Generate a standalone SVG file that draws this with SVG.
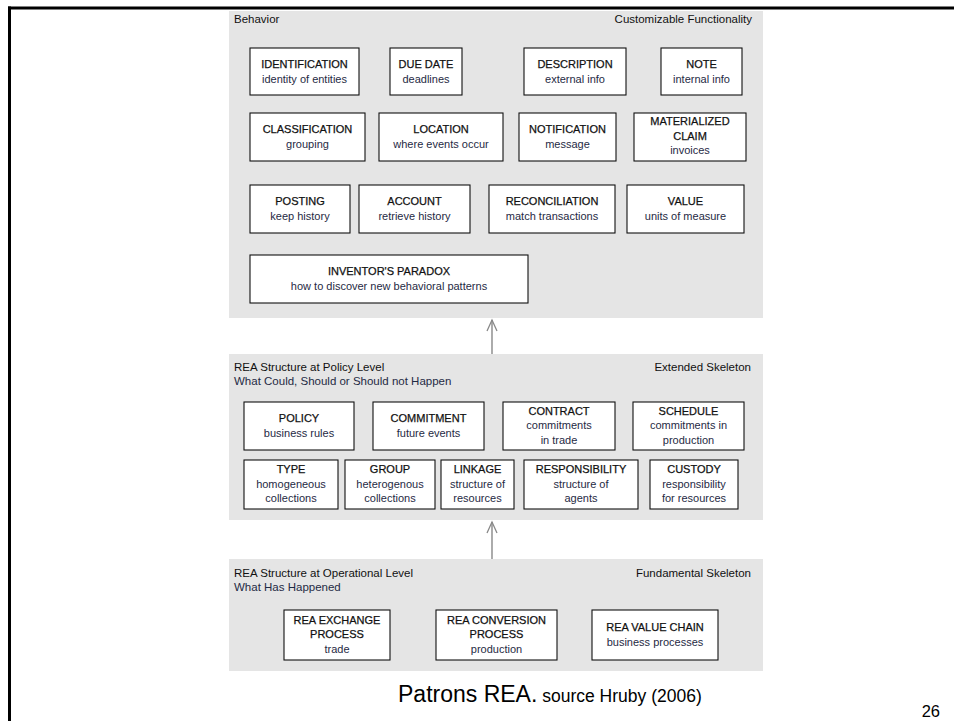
<svg xmlns="http://www.w3.org/2000/svg" width="954" height="721" viewBox="0 0 954 721">
<defs>
<style>
text{font-family:"Liberation Sans",Arial,Helvetica,sans-serif;font-size:11px}
.t{fill:#111;text-anchor:middle;stroke:#111;stroke-width:0.25}
.s{fill:#1f2a44;text-anchor:middle}
.h{fill:#111;font-size:11.5px}
.hs{fill:#1f2a44;font-size:11.5px}
.he{fill:#111;font-size:11.5px;text-anchor:end}
.cap1{font-size:23px;fill:#000}
.cap2{font-size:17.5px;fill:#000}
.pg{font-size:16.5px;fill:#000;text-anchor:end}
.panel{fill:#e5e5e5}
.box{fill:#fff;stroke:#111;stroke-width:1.1}
.conn{stroke:#888;stroke-width:1.4;fill:none}
</style>
<marker id="ah" markerWidth="14" markerHeight="14" refX="12" refY="7" orient="auto" markerUnits="userSpaceOnUse" viewBox="0 0 14 14">
<polyline points="1,2 12,7 1,12" fill="none" stroke="#888" stroke-width="1.3"/>
</marker>
</defs>
<rect width="954" height="721" fill="#fff"/>
<g id="frame">
<line x1="8" y1="8" x2="954" y2="8" stroke="#000" stroke-width="3"/>
<line x1="9.5" y1="6.5" x2="9.5" y2="721" stroke="#000" stroke-width="3"/>
</g>
<g id="panel-behavior">
<rect class="panel" x="229" y="11" width="534" height="307"/>
<text class="h" x="234" y="23">Behavior</text>
<text class="he" x="752" y="23">Customizable Functionality</text>
</g>
<g id="panel-policy">
<rect class="panel" x="229" y="354" width="534" height="166"/>
<text class="h" x="234" y="371">REA Structure at Policy Level</text>
<text class="hs" x="234" y="385">What Could, Should or Should not Happen</text>
<text class="he" x="751" y="371">Extended Skeleton</text>
</g>
<g id="panel-operational">
<rect class="panel" x="229" y="559" width="534" height="112"/>
<text class="h" x="234" y="577">REA Structure at Operational Level</text>
<text class="hs" x="234" y="591">What Has Happened</text>
<text class="he" x="751" y="577">Fundamental Skeleton</text>
</g>
<g id="connectors">
<line class="conn" x1="492" y1="354" x2="492" y2="320" marker-end="url(#ah)"/>
<line class="conn" x1="492" y1="559" x2="492" y2="522" marker-end="url(#ah)"/>
</g>
<g id="identification"><rect class="box" x="250" y="48" width="109" height="47"/><text class="t" x="304.5" y="67.5">IDENTIFICATION</text><text class="s" x="304.5" y="82.5">identity of entities</text></g>
<g id="due-date"><rect class="box" x="390" y="48" width="72" height="47"/><text class="t" x="426" y="67.5">DUE DATE</text><text class="s" x="426" y="82.5">deadlines</text></g>
<g id="description"><rect class="box" x="524" y="48" width="102" height="47"/><text class="t" x="575" y="67.5">DESCRIPTION</text><text class="s" x="575" y="82.5">external info</text></g>
<g id="note"><rect class="box" x="661" y="48" width="81" height="47"/><text class="t" x="701.5" y="67.5">NOTE</text><text class="s" x="701.5" y="82.5">internal info</text></g>
<g id="classification"><rect class="box" x="250" y="113" width="115" height="48"/><text class="t" x="307.5" y="133">CLASSIFICATION</text><text class="s" x="307.5" y="148">grouping</text></g>
<g id="location"><rect class="box" x="379" y="113" width="124" height="48"/><text class="t" x="441" y="133">LOCATION</text><text class="s" x="441" y="148">where events occur</text></g>
<g id="notification"><rect class="box" x="519" y="113" width="97" height="48"/><text class="t" x="567.5" y="133">NOTIFICATION</text><text class="s" x="567.5" y="148">message</text></g>
<g id="materialized-claim"><rect class="box" x="634" y="113" width="112" height="48"/><text class="t" x="690" y="125">MATERIALIZED</text><text class="t" x="690" y="139.5">CLAIM</text><text class="s" x="690" y="154">invoices</text></g>
<g id="posting"><rect class="box" x="250" y="185" width="100" height="48"/><text class="t" x="300" y="205">POSTING</text><text class="s" x="300" y="220">keep history</text></g>
<g id="account"><rect class="box" x="359" y="185" width="111" height="48"/><text class="t" x="414.5" y="205">ACCOUNT</text><text class="s" x="414.5" y="220">retrieve history</text></g>
<g id="reconciliation"><rect class="box" x="489" y="185" width="126" height="48"/><text class="t" x="552" y="205">RECONCILIATION</text><text class="s" x="552" y="220">match transactions</text></g>
<g id="value"><rect class="box" x="627" y="185" width="117" height="48"/><text class="t" x="685.5" y="205">VALUE</text><text class="s" x="685.5" y="220">units of measure</text></g>
<g id="inventors-paradox"><rect class="box" x="250" y="255" width="278" height="48"/><text class="t" x="389" y="275">INVENTOR'S PARADOX</text><text class="s" x="389" y="290">how to discover new behavioral patterns</text></g>
<g id="policy"><rect class="box" x="244" y="402" width="110" height="48"/><text class="t" x="299" y="422">POLICY</text><text class="s" x="299" y="437">business rules</text></g>
<g id="commitment"><rect class="box" x="373" y="402" width="111" height="48"/><text class="t" x="428.5" y="422">COMMITMENT</text><text class="s" x="428.5" y="437">future events</text></g>
<g id="contract"><rect class="box" x="503" y="402" width="112" height="48"/><text class="t" x="559" y="414.5">CONTRACT</text><text class="s" x="559" y="429">commitments</text><text class="s" x="559" y="443.5">in trade</text></g>
<g id="schedule"><rect class="box" x="633" y="402" width="111" height="48"/><text class="t" x="688.5" y="414.5">SCHEDULE</text><text class="s" x="688.5" y="429">commitments in</text><text class="s" x="688.5" y="443.5">production</text></g>
<g id="type"><rect class="box" x="244" y="460" width="94" height="49"/><text class="t" x="291" y="473">TYPE</text><text class="s" x="291" y="487.5">homogeneous</text><text class="s" x="291" y="502">collections</text></g>
<g id="group"><rect class="box" x="345" y="460" width="90" height="49"/><text class="t" x="390" y="473">GROUP</text><text class="s" x="390" y="487.5">heterogenous</text><text class="s" x="390" y="502">collections</text></g>
<g id="linkage"><rect class="box" x="441" y="460" width="73" height="49"/><text class="t" x="477.5" y="473">LINKAGE</text><text class="s" x="477.5" y="487.5">structure of</text><text class="s" x="477.5" y="502">resources</text></g>
<g id="responsibility"><rect class="box" x="524" y="460" width="114" height="49"/><text class="t" x="581" y="473">RESPONSIBILITY</text><text class="s" x="581" y="487.5">structure of</text><text class="s" x="581" y="502">agents</text></g>
<g id="custody"><rect class="box" x="650" y="460" width="88" height="49"/><text class="t" x="694" y="473">CUSTODY</text><text class="s" x="694" y="487.5">responsibility</text><text class="s" x="694" y="502">for resources</text></g>
<g id="rea-exchange"><rect class="box" x="284" y="610" width="106" height="50"/><text class="t" x="337" y="623.5">REA EXCHANGE</text><text class="t" x="337" y="638">PROCESS</text><text class="s" x="337" y="652.5">trade</text></g>
<g id="rea-conversion"><rect class="box" x="436" y="610" width="121" height="50"/><text class="t" x="496.5" y="623.5">REA CONVERSION</text><text class="t" x="496.5" y="638">PROCESS</text><text class="s" x="496.5" y="652.5">production</text></g>
<g id="rea-value-chain"><rect class="box" x="592" y="610" width="126" height="50"/><text class="t" x="655" y="631">REA VALUE CHAIN</text><text class="s" x="655" y="646">business processes</text></g>
<g id="caption">
<text x="398" y="702"><tspan class="cap1">Patrons REA.</tspan><tspan class="cap2"> source Hruby (2006)</tspan></text>
<text class="pg" x="940" y="717">26</text>
</g>
</svg>
